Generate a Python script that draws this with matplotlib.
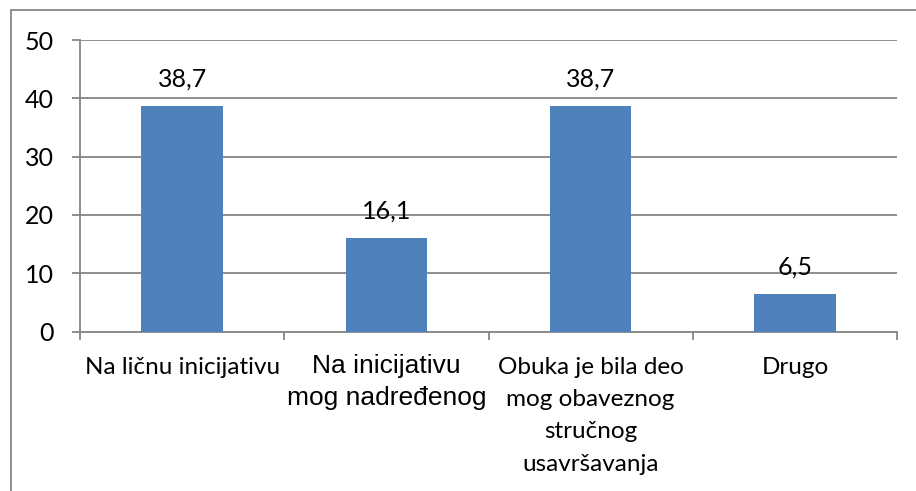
import matplotlib
matplotlib.use("Agg")
import matplotlib.pyplot as plt
from matplotlib.patches import Rectangle
import numpy as np

categories = ["Na ličnu inicijativu", "Na inicijativu\nmog nadređenog",
              "Obuka je bila deo\nmog obaveznog\nstručnog\nusavršavanja", "Drugo"]
values = [38.7, 16.1, 38.7, 6.5]
value_labels = ["38,7", "16,1", "38,7", "6,5"]
yticks = [0, 10, 20, 30, 40, 50]

BODY = "Lato"
grey = "#868686"

fig = plt.figure(figsize=(9.16, 4.91), dpi=100)
fig.patch.set_facecolor("white")
ax = fig.add_axes([80/916, 1-331.6/491, (897-80)/916, (331.6-40)/491])

x = np.arange(len(categories))
ax.bar(x, values, width=0.4, color="#4F81BD", zorder=3)
ax.set_xlim(-0.5, len(categories)-0.5)
ax.set_ylim(0, 50)
ax.set_yticks(yticks)
ax.set_yticklabels([str(t) for t in yticks], fontsize=18, family=BODY)
ax.yaxis.grid(True, color=grey, linewidth=1.3, zorder=0)
ax.set_axisbelow(True)

for s in ["top", "right"]:
    ax.spines[s].set_visible(False)
for s in ["left", "bottom"]:
    ax.spines[s].set_color(grey)
    ax.spines[s].set_linewidth(1.3)

ax.tick_params(axis="y", length=6, color=grey, width=1.3, pad=13)
ax.set_xticks(x)
ax.set_xticklabels([])
ax.tick_params(axis="x", which="major", length=0)
ax.set_xticks(np.arange(-0.5, len(categories), 1.0), minor=True)
ax.tick_params(axis="x", which="minor", length=6, color=grey, width=1.3)

for i, lab in enumerate(categories):
    fam = "Liberation Sans" if i == 1 else BODY
    fs = 19 if i == 1 else 17.5
    ls = 1.42 if i == 1 else 1.67
    off = -16 if i == 1 else -18
    ax.annotate(lab, xy=(x[i], 0), xycoords="data", xytext=(0, off),
                textcoords="offset points", ha="center", va="top",
                fontsize=fs, family=fam, linespacing=ls)

for i, (v, t) in enumerate(zip(values, value_labels)):
    ax.annotate(t, xy=(x[i], v), xytext=(0, 11), textcoords="offset points",
                ha="center", va="bottom", fontsize=18, family=BODY)

fig.patches.append(Rectangle((11/916, -0.1), 1.2, 1-10/491+0.1,
                             transform=fig.transFigure, fill=False,
                             edgecolor=grey, linewidth=1.3))

fig.savefig("out.png", dpi=100)
